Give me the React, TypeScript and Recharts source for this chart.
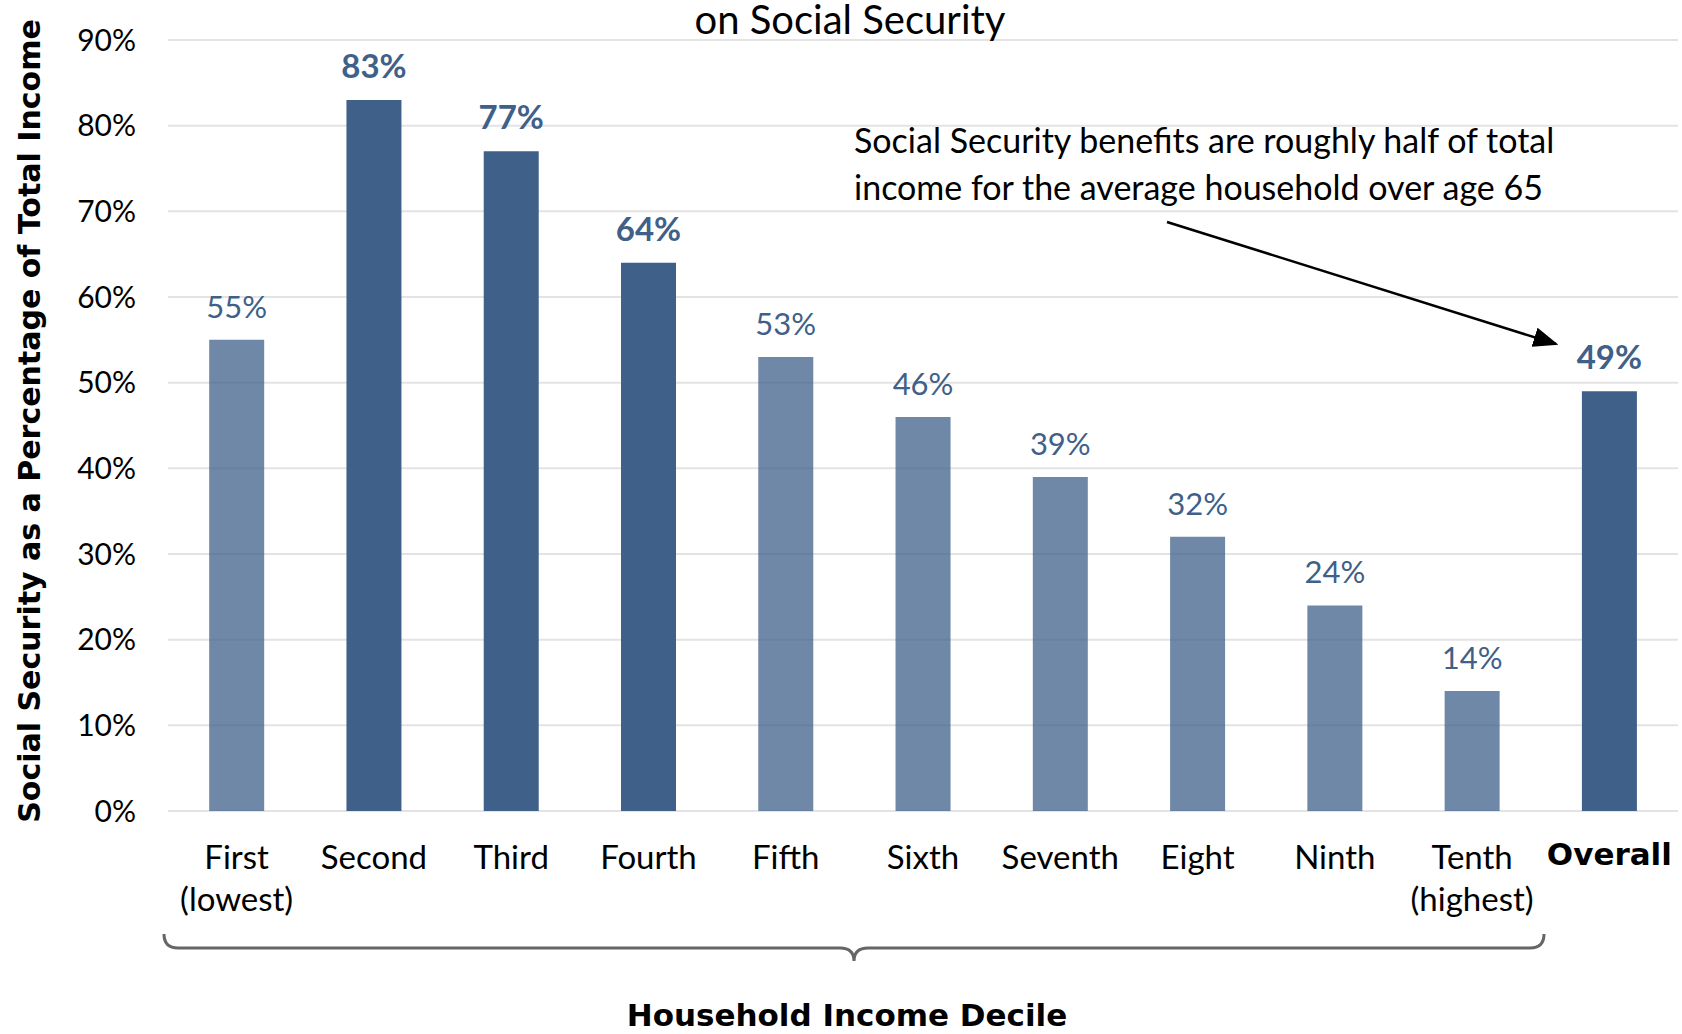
import { BarChart, Bar, XAxis, YAxis, CartesianGrid, Cell, LabelList, Customized } from "recharts";

const categories = [
  "First\n(lowest)",
  "Second",
  "Third",
  "Fourth",
  "Fifth",
  "Sixth",
  "Seventh",
  "Eight",
  "Ninth",
  "Tenth\n(highest)",
  "Overall",
];
const shares = [55, 83, 77, 64, 53, 46, 39, 32, 24, 14, 49];
const highlighted = ["Second", "Third", "Fourth", "Overall"];
const yTicks = [0, 10, 20, 30, 40, 50, 60, 70, 80, 90];

const BLUE = "#3F6089";
const FONT = "Lato, 'Open Sans', sans-serif";
const BOLD_FONT = "'DejaVu Sans', sans-serif";

const data = categories.map((name, i) => ({ name, share: shares[i] }));

const XTick = (props: any) => {
  const { x, y, payload } = props;
  const lines = String(payload.value).split("\n");
  const bold = payload.value === "Overall";
  return (
    <g>
      {lines.map((line, i) => (
        <text
          key={i}
          x={x}
          y={y + (bold ? 46 : 50) + i * 42}
          textAnchor="middle"
          fontFamily={bold ? BOLD_FONT : FONT}
          fontSize={bold ? 31 : 33}
          fontWeight={bold ? 700 : 400}
          fill="#000"
        >
          {line}
        </text>
      ))}
    </g>
  );
};

const renderLabel = (props: any) => {
  const { x, y, width, value, index } = props;
  const bold = highlighted.includes(categories[index]);
  return (
    <text
      x={Number(x) + Number(width) / 2}
      y={Number(y) - 22}
      textAnchor="middle"
      fontFamily={FONT}
      fontSize={bold ? 33 : 31}
      fontWeight={bold ? 700 : 400}
      fill={BLUE}
    >
      {value}%
    </text>
  );
};

const Annotations = () => (
  <g>
    <defs>
      <marker id="arrowHead" markerWidth="10" markerHeight="8" refX="9" refY="4" orient="auto" markerUnits="strokeWidth">
        <path d="M0,0 L10,4 L0,8 z" fill="#000" />
      </marker>
    </defs>
    <text x={850} y={34} textAnchor="middle" fontFamily={FONT} fontSize={40} fill="#000">
      on Social Security
    </text>
    <text x={854} y={153} fontFamily={FONT} fontSize={34} fill="#000">
      Social Security benefits are roughly half of total
    </text>
    <text x={854} y={200} fontFamily={FONT} fontSize={34} fill="#000">
      income for the average household over age 65
    </text>
    <line x1={1167} y1={222} x2={1556} y2={344} stroke="#000" strokeWidth={2.5} markerEnd="url(#arrowHead)" />
    <path
      d="M164 934 Q164 948 178 948 L840 948 Q854 948 854 961 Q854 948 868 948 L1530 948 Q1544 948 1544 934"
      fill="none"
      stroke="#666"
      strokeWidth={3}
    />
    <text x={847} y={1026} textAnchor="middle" fontFamily={BOLD_FONT} fontSize={31} fontWeight={700} fill="#000">
      Household Income Decile
    </text>
    <text
      x={29}
      y={421}
      transform="rotate(-90, 29, 421)"
      textAnchor="middle"
      dominantBaseline="central"
      fontFamily={BOLD_FONT}
      fontSize={30}
      fontWeight={700}
      fill="#000"
    >
      Social Security as a Percentage of Total Income
    </text>
  </g>
);

const App = () => {
  return (
    <div style={{ position: "absolute", left: 0, top: 0, background: "#fff" }}>
      <BarChart
        width={1682}
        height={1034}
        data={data}
        margin={{ top: 40, right: 4, left: 0, bottom: 0 }}
        barCategoryGap="30%"
      >
        <CartesianGrid vertical={false} stroke="#e3e3e3" strokeWidth={2} />
        <XAxis
          dataKey="name"
          height={223}
          axisLine={false}
          tickLine={false}
          interval={0}
          tick={<XTick />}
        />
        <YAxis
          width={168}
          domain={[0, 90]}
          ticks={yTicks}
          axisLine={false}
          tickLine={false}
          tickSize={6}
          tickMargin={26}
          tickFormatter={(v: number) => `${v}%`}
          tick={{ fontSize: 30, fill: "#000", fontFamily: FONT }}
        />
        <Bar dataKey="share" isAnimationActive={false}>
          {data.map((d, i) => (
            <Cell key={i} fill={BLUE} fillOpacity={highlighted.includes(d.name) ? 1 : 0.75} />
          ))}
          <LabelList dataKey="share" content={renderLabel} />
        </Bar>
        <Customized component={Annotations} />
      </BarChart>
    </div>
  );
};

export default App;
